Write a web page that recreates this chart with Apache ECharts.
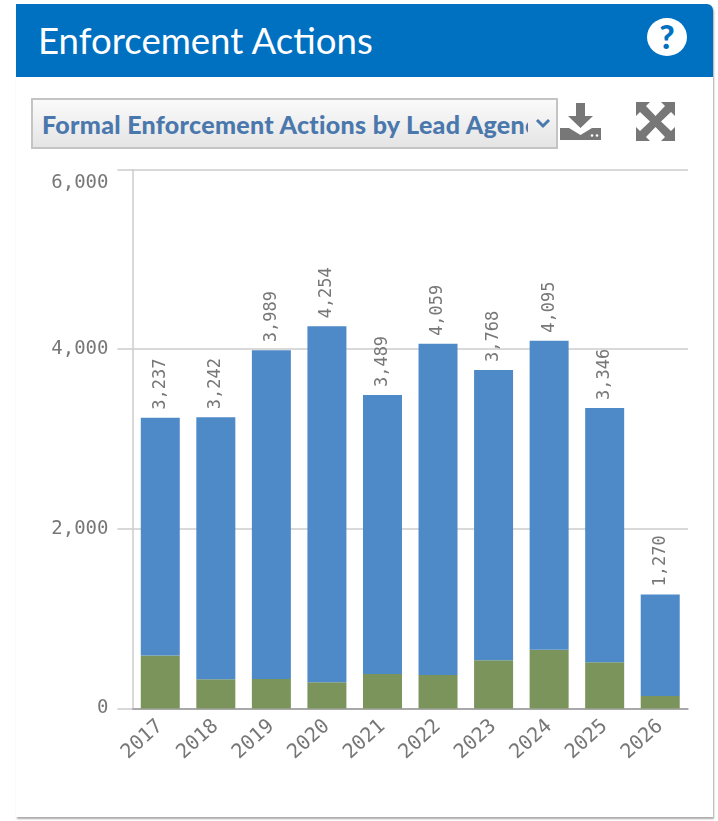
<!DOCTYPE html>
<html>
<head>
<meta charset="UTF-8">
<title>Enforcement Actions</title>
<script src="https://cdn.jsdelivr.net/npm/echarts@6/dist/echarts.min.js"></script>
<style>
  html, body { margin: 0; padding: 0; background: #fff; }
  body { filter: blur(0.45px); width: 718px; height: 821px; overflow: hidden; position: relative; }
  #panel { position: absolute; left: 16px; top: 4px; width: 697px; height: 813px; background: #fff;
           border-radius: 0 6px 0 0; box-shadow: 1px 2px 2px #aaa; }
  #header { position: absolute; left: 0; top: 0; width: 697px; height: 73px; background: #0070c0; border-radius: 0 6px 0 0;
            color: #fff; font-family: Lato, sans-serif; font-size: 36.6px; line-height: 73px; }
  #header span { position: absolute; left: 22px; }
  #help { position: absolute; left: 630px; top: 13px; }
  #picker { position: absolute; left: 15px; top: 94px; width: 523px; height: 47px; border: 2px solid #c4c4c4;
            background: linear-gradient(#fbfbfb, #e4e4e4); }
  #picker div { position: absolute; left: 9px; top: -1px; width: 486px; overflow: hidden; white-space: nowrap;
                font: 900 25px/50px Lato, sans-serif; letter-spacing: 0.3px; color: #4a78ad; }
  #chevron { position: absolute; left: 501px; top: 18px; }
  #download { position: absolute; left: 543px; top: 97px; }
  #expand { position: absolute; left: 620px; top: 98px; }
  #chart { position: absolute; left: 0; top: 0; width: 718px; height: 821px; }
</style>
</head>
<body>
<div id="panel">
  <div id="header">
    <span>Enforcement Actions</span>
    <svg id="help" width="42" height="40" viewBox="0 0 42 40">
      <ellipse cx="21" cy="20" rx="20" ry="19" fill="#fff"/>
      <text x="21" y="32" text-anchor="middle" font-family="Lato" font-weight="900" font-size="33" fill="#0070c0">?</text>
    </svg>
  </div>
  <div id="picker">
    <div>Formal Enforcement Actions by Lead Agency</div>
    <svg id="chevron" width="18" height="12" viewBox="0 0 18 12">
      <polyline points="3,2 9,8 15,2" fill="none" stroke="#4a78ad" stroke-width="3"/>
    </svg>
  </div>
  <svg id="download" width="44" height="42" viewBox="0 0 44 42" fill="#777">
    <polygon points="17,2 26,2 26,15 34,15 21.5,27 9,15 17,15"/>
    <path d="M1 27 H10 L21.5 34 L33 27 H42 V39 H1 Z"/>
    <circle cx="33" cy="34.5" r="1.3" fill="#fff"/><circle cx="38" cy="34.5" r="1.3" fill="#fff"/>
  </svg>
  <svg id="expand" width="39" height="39" viewBox="0 0 39 39" fill="#777">
    <polygon points="0,0 14,0 10,4 19.5,14 29,4 25,0 39,0 39,14 35,10 25,19.5 35,29 39,25 39,39 25,39 29,35 19.5,25 10,35 14,39 0,39 0,25 4,29 14,19.5 4,10 0,14"/>
  </svg>
</div>
<div id="chart"></div>
<script>
  var years = ['2017','2018','2019','2020','2021','2022','2023','2024','2025','2026'];
  var totals = [3237,3242,3989,4254,3489,4059,3768,4095,3346,1270];
  var greenValues = [590,325,328,292,384,373,537,655,515,139];
  var blueValues = [2647,2917,3661,3962,3105,3686,3231,3440,2831,1131];

  var chart = echarts.init(document.getElementById('chart'));
  var monoFont = '"DejaVu Sans Mono", monospace';

  var option = {
    animation: false,
    grid: { left: 132.5, right: 30, top: 169.5, bottom: 112.5 },
    xAxis: {
      type: 'category',
      data: years,
      axisLine: { lineStyle: { color: '#999', width: 1.5 } },
      axisTick: { show: false },
      axisLabel: { rotate: 42, color: '#777', fontFamily: monoFont, fontSize: 20, margin: 15, interval: 0 }
    },
    yAxis: {
      type: 'value',
      min: 0,
      max: 6000,
      interval: 2000,
      axisLine: { show: true, lineStyle: { color: '#ccc', width: 1.5 } },
      axisTick: { show: true, length: 15, lineStyle: { color: '#ccc', width: 1.5 } },
      splitLine: { show: true, lineStyle: { color: '#ccc', width: 1.5 } },
      axisLabel: {
        color: '#777', fontFamily: monoFont, fontSize: 19, margin: 24,
        verticalAlignMaxLabel: 'top',
        formatter: function (v) {
          var s = v.toLocaleString('en-US');
          // top label sits below its gridline in the original
          return v === 6000 ? '{top|' + s + '}' : s;
        },
        rich: { top: { color: '#777', fontFamily: monoFont, fontSize: 19, padding: [4, 0, 0, 0] } }
      }
    },
    series: [
      { name: 'Green', type: 'bar', stack: 'total', barWidth: 39, data: greenValues,
        itemStyle: { color: '#7a945c' } },
      { name: 'Blue', type: 'bar', stack: 'total', barWidth: 39, data: blueValues,
        itemStyle: { color: '#4e8ac8' },
        label: {
          show: true, position: 'top', rotate: 90, distance: 8, align: 'left', verticalAlign: 'middle',
          color: '#777', fontFamily: monoFont, fontSize: 17,
          formatter: function (p) { return totals[p.dataIndex].toLocaleString('en-US'); }
        } }
    ]
  };
  chart.setOption(option);
</script>
</body>
</html>
